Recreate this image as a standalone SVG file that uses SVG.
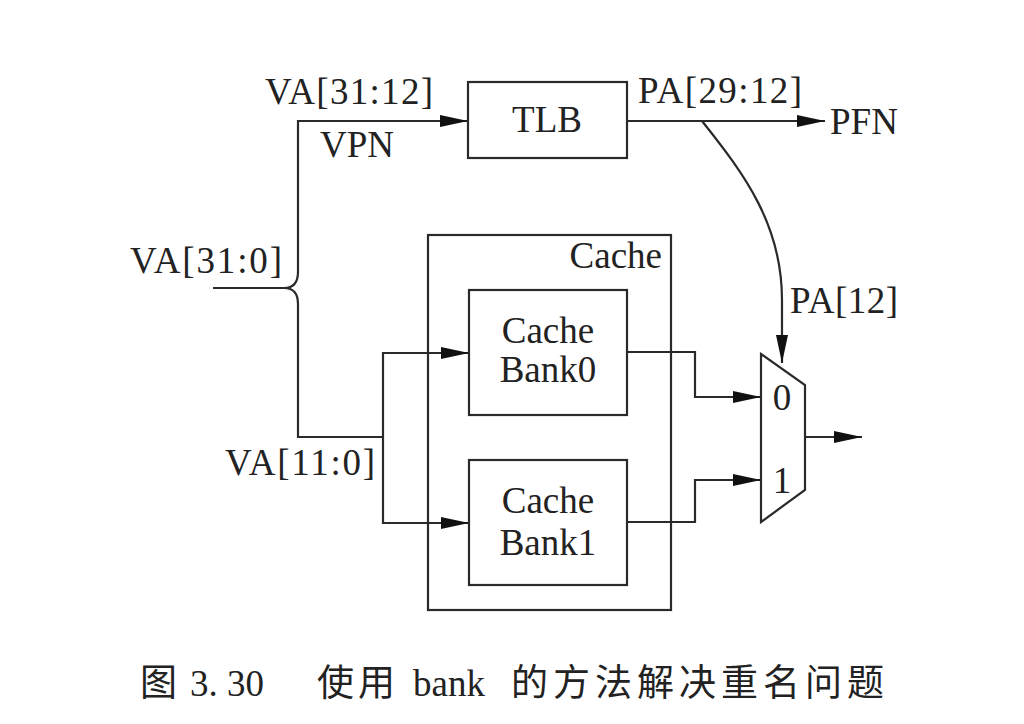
<svg xmlns="http://www.w3.org/2000/svg" width="1024" height="724" viewBox="0 0 1024 724">
<style>
.ln{fill:none;stroke:#2a2a2a;stroke-width:2.2}
.bx{fill:none;stroke:#2a2a2a;stroke-width:2.2}
.t{font-family:"Liberation Serif","Times New Roman",serif;font-size:37px;fill:#222}
.c{font-family:"Liberation Serif","Noto Sans CJK SC",serif;font-size:37px;fill:#222}
</style>
<defs>
<marker id="ah" markerUnits="userSpaceOnUse" markerWidth="28" markerHeight="12" refX="28" refY="6" orient="auto">
<path d="M0,0 L28,6 L0,12 Z" fill="#111"/>
</marker>
</defs>
<rect width="1024" height="724" fill="#fff"/>
<g id="connectors">
<path class="ln" d="M298,304 L298,437 L383,437"/>
<path class="ln" d="M213,288 L284,288 Q298,288 298,272 L298,121 L468,121" marker-end="url(#ah)"/>
<path class="ln" d="M284,288 Q298,288 298,304"/>
<path class="ln" d="M383,437 L383,353 L469,353" marker-end="url(#ah)"/>
<path class="ln" d="M383,437 L383,523 L469,523" marker-end="url(#ah)"/>
<path class="ln" d="M627,121 L825,121" marker-end="url(#ah)"/>
<path class="ln" d="M702,121 C745,175 782,225 782,300 L782,363" marker-end="url(#ah)"/>
<path class="ln" d="M627,352 L695,352 L695,397 L761,397" marker-end="url(#ah)"/>
<path class="ln" d="M627,522 L695,522 L695,480 L761,480" marker-end="url(#ah)"/>
<path class="ln" d="M805,437 L862,437" marker-end="url(#ah)"/>
</g>
<g id="tlb">
<rect class="bx" x="468" y="82" width="159" height="76"/>
<text class="t" x="547" y="132" text-anchor="middle">TLB</text>
</g>
<g id="cache">
<rect class="bx" x="428" y="235" width="243" height="375"/>
<text class="t" x="662" y="268" text-anchor="end">Cache</text>
</g>
<g id="bank0">
<rect class="bx" x="469" y="290" width="158" height="125"/>
<text class="t" x="548" y="343" text-anchor="middle">Cache</text>
<text class="t" x="548" y="382" text-anchor="middle">Bank0</text>
</g>
<g id="bank1">
<rect class="bx" x="469" y="460" width="158" height="125"/>
<text class="t" x="548" y="513" text-anchor="middle">Cache</text>
<text class="t" x="548" y="555" text-anchor="middle">Bank1</text>
</g>
<g id="mux">
<path class="bx" d="M761,354 L805,385 L805,490 L761,522 Z"/>
<text class="t" x="782" y="410" text-anchor="middle">0</text>
<text class="t" x="782" y="493" text-anchor="middle">1</text>
</g>
<g id="labels">
<text class="t" x="265" y="104" textLength="168" lengthAdjust="spacing">VA[31:12]</text>
<text class="t" x="320" y="157">VPN</text>
<text class="t" x="130" y="273" textLength="152" lengthAdjust="spacing">VA[31:0]</text>
<text class="t" x="225" y="475" textLength="150" lengthAdjust="spacing">VA[11:0]</text>
<text class="t" x="638" y="103" textLength="164" lengthAdjust="spacing">PA[29:12]</text>
<text class="t" x="830" y="134">PFN</text>
<text class="t" x="790" y="313" textLength="108" lengthAdjust="spacing">PA[12]</text>
</g>
<g id="caption">
<text class="c" x="140" y="696">图</text>
<text class="c" x="190" y="696">3. 30</text>
<text class="c" x="317" y="696" letter-spacing="4">使用</text>
<text class="c" x="413" y="696" font-size="40">bank</text>
<text class="c" x="511" y="696" letter-spacing="5">的方法解决重名问题</text>
</g>
</svg>
